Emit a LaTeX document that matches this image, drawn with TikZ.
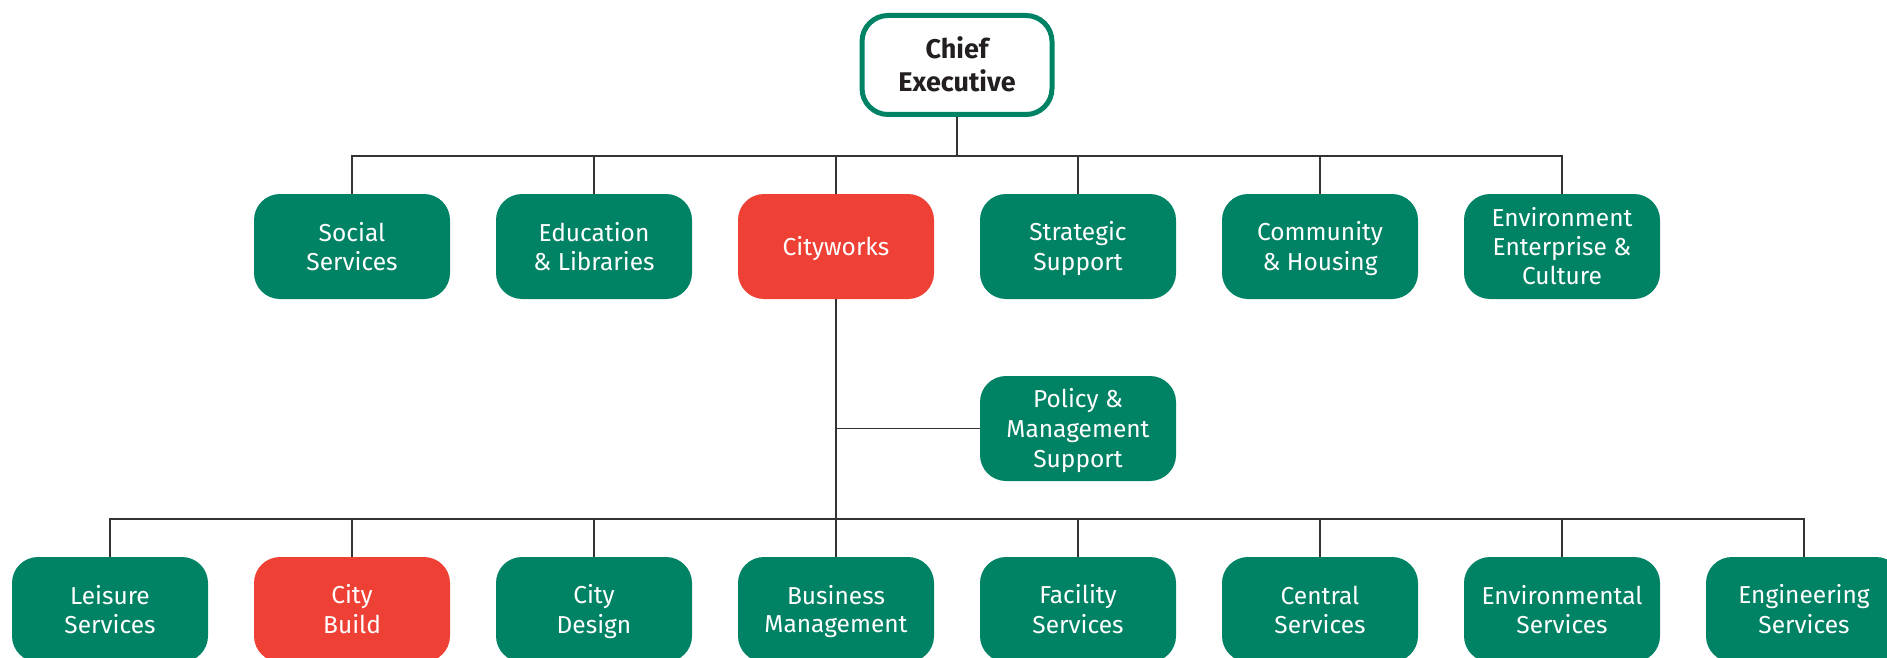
\documentclass[tikz,border=0pt]{standalone}
\usepackage{fontspec}
\setmainfont{Fira Sans}
\definecolor{cgreen}{HTML}{008264}
\definecolor{cred}{HTML}{EF4035}
\definecolor{cline}{HTML}{333333}
\definecolor{ctext}{HTML}{231F20}
\newcommand\ms{\rule[-5pt]{0pt}{28.5pt}}
\newcommand\cs{\rule[-6pt]{0pt}{32.5pt}}
\begin{document}
\begin{tikzpicture}[x=1pt,y=-1pt,
  unit/.style={rectangle,rounded corners=26pt,fill=cgreen,text=white,
    minimum width=196pt,minimum height=105pt,inner sep=0pt,align=center,
    font=\fontsize{24.5}{28.5}\selectfont},
  hot/.style={unit,fill=cred},
  chief/.style={rectangle,rounded corners=26pt,draw=cgreen,line width=5pt,fill=white,
    text=ctext,minimum width=190pt,minimum height=99pt,inner sep=0pt,align=center,
    font=\fontsize{27}{32.5}\selectfont\bfseries},
  link/.style={draw=cline,line width=1.5pt}]
\useasboundingbox (0,0) rectangle (1887,658);
\coordinate (b1) at (957,156);
\coordinate (b2) at (836,519);
\coordinate (pj) at (836,428.5);
\node[chief] (ce) at (957,65) {\cs Chief\\\cs Executive};
\node[unit] (ss) at (352,246.5) {\ms Social\\\ms Services};
\node[unit] (el) at (594,246.5) {\ms Education\\\ms\& Libraries};
\node[hot]  (cw) at (836,246.5) {\ms Cityworks};
\node[unit] (st) at (1078,246.5) {\ms Strategic\\\ms Support};
\node[unit] (ch) at (1320,246.5) {\ms Community\\\ms\& Housing};
\node[unit] (ee) at (1562,246.5) {\ms Environment\\\ms Enterprise \&\\\ms Culture};
\node[unit] (pm) at (1078,428.5) {\ms Policy \&\\\ms Management\\\ms Support};
\node[unit] (ls) at (110,609.5) {\ms Leisure\\\ms Services};
\node[hot]  (cb) at (352,609.5) {\ms City\\\ms Build};
\node[unit] (cd) at (594,609.5) {\ms City\\\ms Design};
\node[unit] (bm) at (836,609.5) {\ms Business\\\ms Management};
\node[unit] (fs) at (1078,609.5) {\ms Facility\\\ms Services};
\node[unit] (cn) at (1320,609.5) {\ms Central\\\ms Services};
\node[unit] (ev) at (1562,609.5) {\ms Environmental\\\ms Services};
\node[unit] (es) at (1804,609.5) {\ms Engineering\\\ms Services};
\draw[link] (ce.south) -- (b1);
\foreach \n in {ss,el,cw,st,ch,ee} \draw[link] (\n.north) |- (b1);
\draw[link] (cw.south) -- (b2);
\draw[link] (pm.west) -- (pj);
\foreach \n in {ls,cb,cd,bm,fs,cn,ev,es} \draw[link] (\n.north) |- (b2);
\end{tikzpicture}
\end{document}
